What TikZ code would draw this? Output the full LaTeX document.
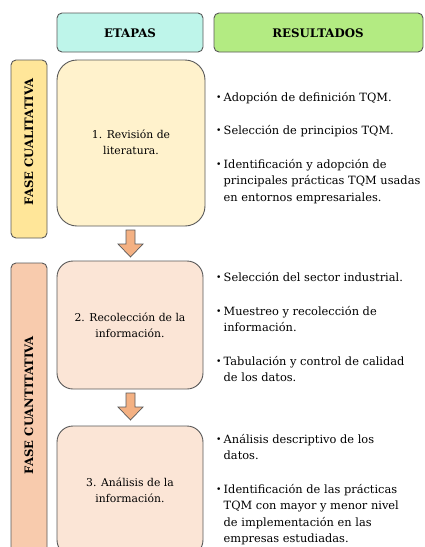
\documentclass[tikz,border=0pt]{standalone}
\usepackage{fontspec}
\setmainfont{DejaVu Serif}
\definecolor{cyanhead}{HTML}{BEF5EA}
\definecolor{greenhead}{HTML}{B3EB82}
\definecolor{yelbar}{HTML}{FFE699}
\definecolor{yelbox}{HTML}{FFF2CC}
\definecolor{orgbar}{HTML}{F8CBAD}
\definecolor{orgbox}{HTML}{FBE5D6}
\definecolor{arrowfill}{HTML}{F4B183}
\definecolor{edge}{HTML}{595959}
\tikzset{
  panel/.style={draw=edge, line width=0.9pt},
  headtxt/.style={font=\fontsize{11.8}{13}\selectfont\bfseries, anchor=base, inner sep=0pt},
  bodytxt/.style={font=\fontsize{10.8}{16.5}\selectfont, anchor=base, inner sep=0pt},
  item/.style={font=\fontsize{11.4}{16.5}\selectfont, anchor=base west, inner sep=0pt},
  vtxt/.style={font=\fontsize{11.6}{13}\selectfont\bfseries, rotate=90, inner sep=0pt},
  downarrow/.style={draw=edge, line width=0.7pt, fill=arrowfill}
}
\newcommand{\bul}{\makebox[7.5pt][l]{\raisebox{0.5pt}{\scalebox{0.8}{\textbullet}}}}
\newcommand{\ind}{\hspace*{7.5pt}}
\newcommand{\leftlines}[1]{\begin{tabular}[t]{@{}l@{}}#1\end{tabular}}
\newcommand{\midlines}[1]{\begin{tabular}[t]{@{}c@{}}#1\end{tabular}}
\begin{document}
\begin{tikzpicture}[x=1pt,y=-1pt]
\useasboundingbox (0,0) rectangle (424,547);
\begin{scope}
\clip (0,0) rectangle (424,547);
% headers
\draw[panel, fill=cyanhead, rounded corners=5pt] (57,13) rectangle (203,52);
\node[headtxt] (h1) at (130,37) {ETAPAS};
\draw[panel, fill=greenhead, rounded corners=5pt] (214,13) rectangle (423,52);
\node[headtxt] (h2) at (318,37) {RESULTADOS};
% phase bars
\draw[panel, fill=yelbar, rounded corners=5pt] (11,60) rectangle (47,238);
\node[vtxt] (p1) at (29,142) {FASE CUALITATIVA};
\draw[panel, fill=orgbar, rounded corners=5pt] (11,263) rectangle (47,556);
\node[vtxt] (p2) at (29,405) {FASE CUANTITATIVA};
% stage boxes
\draw[panel, fill=yelbox, rounded corners=20pt] (57,60) rectangle (205,226);
\node[bodytxt] (b1) at (131,138) {\midlines{1. Revisión de\\literatura.}};
\draw[panel, fill=orgbox, rounded corners=16pt] (57,261) rectangle (203,389);
\node[bodytxt] (b2) at (130,321) {\midlines{2. Recolección de la\\información.}};
\draw[panel, fill=orgbox, rounded corners=16pt] (57,426) rectangle (203,556);
\node[bodytxt] (b3) at (130,486) {\midlines{3. Análisis de la\\información.}};
% arrows
\draw[downarrow] (126,230) -- (135,230) -- (135,244) -- (143,244) -- (130.5,257) -- (118,244) -- (126,244) -- cycle;
\draw[downarrow] (126,393) -- (135,393) -- (135,407) -- (143,407) -- (130.5,420) -- (118,407) -- (126,407) -- cycle;
% results
\node[item] (r1) at (216,101) {\leftlines{\bul Adopción de definición TQM.}};
\node[item] (r2) at (216,134) {\leftlines{\bul Selección de principios TQM.}};
\node[item] (r3) at (216,168) {\leftlines{\bul Identificación y adopción de\\\ind principales prácticas TQM usadas\\\ind en entornos empresariales.}};
\node[item] (r4) at (216,281) {\leftlines{\bul Selección del sector industrial.}};
\node[item] (r5) at (216,315) {\leftlines{\bul Muestreo y recolección de\\\ind información.}};
\node[item] (r6) at (216,365) {\leftlines{\bul Tabulación y control de calidad\\\ind de los datos.}};
\node[item] (r7) at (216,443) {\leftlines{\bul Análisis descriptivo de los\\\ind datos.}};
\node[item] (r8) at (216,493) {\leftlines{\bul Identificación de las prácticas\\\ind TQM con mayor y menor nivel\\\ind de implementación en las\\\ind empresas estudiadas.}};
\end{scope}
\end{tikzpicture}
\end{document}
